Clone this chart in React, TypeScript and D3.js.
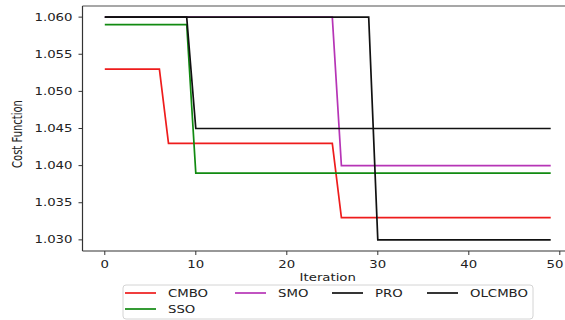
import * as d3 from "d3";

const iterations = d3.range(0, 50);

const cmbo = [
  1.053, 1.053, 1.053, 1.053, 1.053, 1.053, 1.053,
  1.043, 1.043, 1.043, 1.043, 1.043, 1.043, 1.043, 1.043, 1.043, 1.043,
  1.043, 1.043, 1.043, 1.043, 1.043, 1.043, 1.043, 1.043, 1.043,
  1.033, 1.033, 1.033, 1.033, 1.033, 1.033, 1.033, 1.033, 1.033, 1.033,
  1.033, 1.033, 1.033, 1.033, 1.033, 1.033, 1.033, 1.033, 1.033, 1.033,
  1.033, 1.033, 1.033, 1.033,
];
const sso = [
  1.059, 1.059, 1.059, 1.059, 1.059, 1.059, 1.059, 1.059, 1.059, 1.059,
  1.039, 1.039, 1.039, 1.039, 1.039, 1.039, 1.039, 1.039, 1.039, 1.039,
  1.039, 1.039, 1.039, 1.039, 1.039, 1.039, 1.039, 1.039, 1.039, 1.039,
  1.039, 1.039, 1.039, 1.039, 1.039, 1.039, 1.039, 1.039, 1.039, 1.039,
  1.039, 1.039, 1.039, 1.039, 1.039, 1.039, 1.039, 1.039, 1.039, 1.039,
];
const smo = [
  1.06, 1.06, 1.06, 1.06, 1.06, 1.06, 1.06, 1.06, 1.06, 1.06,
  1.06, 1.06, 1.06, 1.06, 1.06, 1.06, 1.06, 1.06, 1.06, 1.06,
  1.06, 1.06, 1.06, 1.06, 1.06, 1.06,
  1.04, 1.04, 1.04, 1.04, 1.04, 1.04, 1.04, 1.04, 1.04, 1.04, 1.04, 1.04,
  1.04, 1.04, 1.04, 1.04, 1.04, 1.04, 1.04, 1.04, 1.04, 1.04, 1.04, 1.04,
];
const pro = [
  1.06, 1.06, 1.06, 1.06, 1.06, 1.06, 1.06, 1.06, 1.06, 1.06,
  1.045, 1.045, 1.045, 1.045, 1.045, 1.045, 1.045, 1.045, 1.045, 1.045,
  1.045, 1.045, 1.045, 1.045, 1.045, 1.045, 1.045, 1.045, 1.045, 1.045,
  1.045, 1.045, 1.045, 1.045, 1.045, 1.045, 1.045, 1.045, 1.045, 1.045,
  1.045, 1.045, 1.045, 1.045, 1.045, 1.045, 1.045, 1.045, 1.045, 1.045,
];
const olcmbo = [
  1.06, 1.06, 1.06, 1.06, 1.06, 1.06, 1.06, 1.06, 1.06, 1.06,
  1.06, 1.06, 1.06, 1.06, 1.06, 1.06, 1.06, 1.06, 1.06, 1.06,
  1.06, 1.06, 1.06, 1.06, 1.06, 1.06, 1.06, 1.06, 1.06, 1.06,
  1.03, 1.03, 1.03, 1.03, 1.03, 1.03, 1.03, 1.03, 1.03, 1.03,
  1.03, 1.03, 1.03, 1.03, 1.03, 1.03, 1.03, 1.03, 1.03, 1.03,
];

const seriesNames = ["CMBO", "SSO", "SMO", "PRO", "OLCMBO"];
const seriesValues = [cmbo, sso, smo, pro, olcmbo];
const seriesColors = ["#ee1c1c", "#118a11", "#b634b6", "#111111", "#111111"];

const xTicks = [0, 10, 20, 30, 40, 50];
const yTicks = [1.03, 1.035, 1.04, 1.045, 1.05, 1.055, 1.06];

const W = 565;
const H = 320;
const STRETCH = 1.33; // the picture is stretched sideways
const FONT = "DejaVu Sans, sans-serif";

// text with the same sideways stretch as the reference
function SText({ x, y, anchor = "start", rotate = 0, children }: any) {
  return (
    <text
      transform={`translate(${x},${y}) scale(${STRETCH},1) rotate(${rotate})`}
      textAnchor={anchor}
      fontFamily={FONT}
      fontSize={10}
      fill="#222"
    >
      {children}
    </text>
  );
}

export default function App() {
  const x = d3.scaleLinear().domain([-2.45, 51.45]).range([82.5, 573]);
  const y = d3.scaleLinear().domain([1.0285, 1.0615]).range([251, 6]);

  const line = d3
    .line<number>()
    .x((_, i) => x(iterations[i]))
    .y((d) => y(d));

  const [x0, x1] = x.range();
  const [y0, y1] = y.range();

  // legend: matplotlib fills columns first (ncol=4)
  const legendCols = [125, 235, 332, 427];
  const legendRows = [293, 309];
  const legendItems = seriesNames.map((name, i) => {
    const col = i < 2 ? 0 : i - 1;
    const row = i === 1 ? 1 : 0;
    return { name, color: seriesColors[i], lx: legendCols[col], ly: legendRows[row] };
  });

  return (
    <svg
      width={W}
      height={H}
      style={{ position: "fixed", left: 0, top: 0, background: "#fff" }}
    >
      <rect width={W} height={H} fill="#fff" />

      {seriesValues.map((vals, i) => (
        <path
          key={seriesNames[i]}
          d={line(vals)!}
          fill="none"
          stroke={seriesColors[i]}
          strokeWidth={1.7}
        />
      ))}

      {/* spines */}
      <line x1={x0} x2={x1} y1={y1} y2={y1} stroke="#8a8a8a" strokeWidth={1.6} />
      <line x1={x0} x2={x0} y1={y1} y2={y0} stroke="#333" strokeWidth={1.2} />
      <line x1={x0} x2={x1} y1={y0} y2={y0} stroke="#333" strokeWidth={1.2} />

      {yTicks.map((t) => (
        <g key={t}>
          <line x1={x0 - 4} x2={x0} y1={y(t)} y2={y(t)} stroke="#333" strokeWidth={1} />
          <SText x={x0 - 10} y={y(t) + 3.6} anchor="end">
            {t.toFixed(3)}
          </SText>
        </g>
      ))}

      {xTicks.map((t) => {
        // the last label sits at the page edge; keep it inside
        const lx = Math.min(x(t), W - 10);
        return (
          <g key={t}>
            <line x1={x(t)} x2={x(t)} y1={y0} y2={y0 + 4} stroke="#333" strokeWidth={1} />
            <SText x={lx} y={y0 + 17} anchor="middle">
              {t}
            </SText>
          </g>
        );
      })}

      <SText x={(x0 + 573) / 2} y={281} anchor="middle">
        Iteration
      </SText>
      <SText x={22} y={134} anchor="middle" rotate={-90}>
        Cost Function
      </SText>

      {/* legend */}
      <rect x={123} y={285} width={410} height={34} rx={3} fill="#fff" stroke="#d4d4d4" />
      {legendItems.map((it) => (
        <g key={it.name}>
          <line
            x1={it.lx}
            x2={it.lx + 31}
            y1={it.ly}
            y2={it.ly}
            stroke={it.color}
            strokeWidth={1.7}
          />
          <SText x={it.lx + 43} y={it.ly + 3.6}>
            {it.name}
          </SText>
        </g>
      ))}
    </svg>
  );
}
